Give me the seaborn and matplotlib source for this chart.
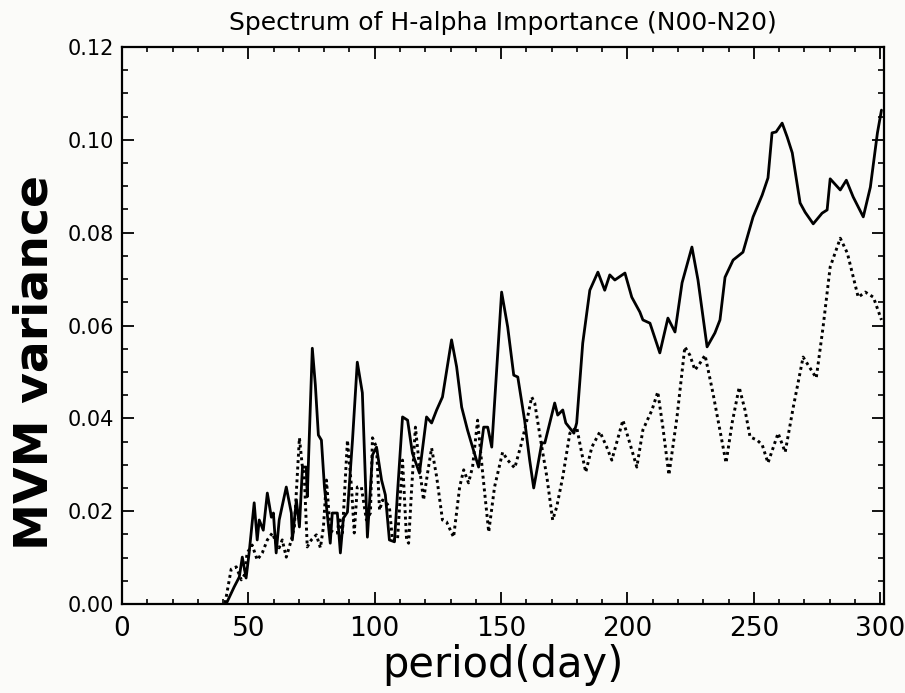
import matplotlib
matplotlib.use("Agg")
import matplotlib.pyplot as plt
from matplotlib.ticker import MultipleLocator, FormatStrFormatter
import seaborn as sns
import pandas as pd

# ---- data ----
solid_days = [41.2, 44.4, 46.4, 47.6, 49.1, 50.3, 52.3, 53.5, 54.3, 55.9,
              57.5, 59.1, 59.9, 61.0, 62.2, 65.0, 67.0, 67.4, 69.0, 70.2,
              71.4, 72.9, 73.3, 75.3, 76.5, 77.7, 78.9, 80.1, 82.4, 83.2,
              85.2, 86.4, 87.6, 89.2, 91.2, 93.1, 95.1, 97.1, 99.1, 100.7,
              102.7, 104.2, 105.8, 107.8, 109.0, 111.0, 113.0, 114.9, 117.7, 120.5,
              122.5, 124.5, 126.8, 130.4, 132.4, 134.4, 136.7, 138.7, 141.1, 143.1,
              144.7, 146.3, 150.2, 152.6, 155.0, 156.6, 159.3, 161.3, 162.9, 166.1,
              167.3, 171.2, 172.4, 174.4, 175.6, 178.8, 179.9, 182.3, 185.1, 188.3,
              191.0, 193.0, 195.0, 199.0, 201.7, 204.9, 206.1, 208.9, 212.8, 216.0,
              218.8, 221.6, 225.5, 227.9, 231.5, 234.6, 236.6, 238.6, 241.8, 245.7,
              249.7, 253.3, 255.6, 257.2, 258.8, 261.2, 263.2, 265.2, 268.3, 270.3,
              273.5, 277.0, 279.0, 280.2, 284.2, 286.6, 289.3, 293.3, 296.1, 298.9,
              300.5]
solid_var = [0.0000, 0.0037, 0.0058, 0.0101, 0.0056, 0.0110, 0.0218, 0.0138, 0.0181, 0.0159,
             0.0239, 0.0187, 0.0196, 0.0110, 0.0181, 0.0252, 0.0196, 0.0138, 0.0224, 0.0166,
             0.0295, 0.0295, 0.0231, 0.0551, 0.0472, 0.0364, 0.0353, 0.0252, 0.0131, 0.0196,
             0.0196, 0.0110, 0.0185, 0.0198, 0.0353, 0.0521, 0.0455, 0.0144, 0.0321, 0.0338,
             0.0267, 0.0235, 0.0138, 0.0134, 0.0239, 0.0403, 0.0396, 0.0325, 0.0282, 0.0403,
             0.0390, 0.0418, 0.0446, 0.0569, 0.0511, 0.0424, 0.0375, 0.0338, 0.0295, 0.0381,
             0.0381, 0.0338, 0.0672, 0.0597, 0.0493, 0.0489, 0.0396, 0.0310, 0.0250, 0.0347,
             0.0347, 0.0433, 0.0407, 0.0418, 0.0390, 0.0368, 0.0390, 0.0562, 0.0676, 0.0715,
             0.0676, 0.0709, 0.0698, 0.0713, 0.0661, 0.0629, 0.0612, 0.0605, 0.0541, 0.0616,
             0.0586, 0.0692, 0.0769, 0.0698, 0.0554, 0.0584, 0.0612, 0.0704, 0.0741, 0.0758,
             0.0834, 0.0881, 0.0918, 0.1015, 0.1017, 0.1036, 0.1006, 0.0972, 0.0864, 0.0844,
             0.0819, 0.0842, 0.0849, 0.0916, 0.0892, 0.0913, 0.0877, 0.0834, 0.0898, 0.1015,
             0.1064]

dotted_days = [40.8, 43.2, 45.2, 47.2, 48.4, 49.5, 51.5, 53.5, 55.5, 57.5,
               59.5, 61.0, 62.2, 63.4, 65.0, 67.0, 68.2, 70.2, 71.3, 72.1,
               73.3, 74.9, 76.9, 78.5, 79.7, 80.9, 82.4, 84.0, 85.2, 86.0,
               87.2, 89.2, 90.8, 91.9, 93.1, 94.7, 96.7, 98.3, 99.1, 100.7,
               101.9, 103.1, 104.6, 105.8, 107.0, 109.0, 111.0, 112.6, 113.4, 114.5,
               116.1, 117.7, 119.3, 120.9, 122.5, 124.5, 126.8, 128.4, 131.2, 133.6,
               135.2, 137.1, 138.7, 140.7, 142.7, 145.1, 147.4, 150.6, 152.6, 155.4,
               158.1, 160.5, 162.1, 163.3, 166.1, 168.1, 170.4, 172.0, 174.4, 177.2,
               179.9, 181.9, 183.5, 185.9, 189.1, 191.8, 193.8, 198.2, 200.9, 203.7,
               206.1, 209.7, 212.0, 214.0, 216.4, 219.6, 222.7, 224.7, 226.7, 228.7,
               230.7, 233.8, 239.0, 241.4, 244.2, 246.5, 248.5, 251.3, 253.3, 255.6,
               259.6, 262.4, 265.6, 269.5, 274.7, 277.4, 280.2, 284.2, 287.0, 291.3,
               294.1, 297.3, 300.5]
dotted_var = [0.0002, 0.0075, 0.0080, 0.0052, 0.0062, 0.0110, 0.0127, 0.0095, 0.0110, 0.0138,
              0.0153, 0.0131, 0.0121, 0.0138, 0.0101, 0.0138, 0.0166, 0.0358, 0.0299, 0.0278,
              0.0123, 0.0138, 0.0149, 0.0121, 0.0166, 0.0267, 0.0159, 0.0153, 0.0153, 0.0187,
              0.0153, 0.0353, 0.0252, 0.0153, 0.0252, 0.0252, 0.0181, 0.0196, 0.0358, 0.0338,
              0.0202, 0.0224, 0.0218, 0.0209, 0.0138, 0.0138, 0.0310, 0.0138, 0.0131, 0.0239,
              0.0381, 0.0295, 0.0224, 0.0282, 0.0336, 0.0274, 0.0181, 0.0177, 0.0144, 0.0252,
              0.0289, 0.0261, 0.0295, 0.0396, 0.0282, 0.0155, 0.0252, 0.0327, 0.0310, 0.0293,
              0.0347, 0.0403, 0.0446, 0.0433, 0.0338, 0.0274, 0.0181, 0.0209, 0.0274, 0.0368,
              0.0381, 0.0325, 0.0284, 0.0338, 0.0371, 0.0338, 0.0310, 0.0396, 0.0347, 0.0295,
              0.0375, 0.0418, 0.0457, 0.0381, 0.0278, 0.0403, 0.0554, 0.0536, 0.0504, 0.0519,
              0.0536, 0.0455, 0.0304, 0.0390, 0.0467, 0.0418, 0.0360, 0.0353, 0.0343, 0.0304,
              0.0368, 0.0327, 0.0424, 0.0532, 0.0487, 0.0597, 0.0726, 0.0788, 0.0756, 0.0661,
              0.0672, 0.0661, 0.0612]

x_ticks = [0, 50, 100, 150, 200, 250, 300]
title_text = "Spectrum of H-alpha Importance (N00-N20)"
x_label = "period(day)"
y_label = "MVM variance"

# ---- styling ----
sns.set_style("ticks")
plt.rcParams["font.family"] = ["DejaVu Sans"]
plt.rcParams["text.color"] = "black"
plt.rcParams["axes.labelcolor"] = "black"
plt.rcParams["xtick.color"] = "black"
plt.rcParams["ytick.color"] = "black"
plt.rcParams["axes.edgecolor"] = "black"

fig = plt.figure(figsize=(9.05, 6.93), dpi=100, facecolor="#fbfbf9")
ax = fig.add_axes([122 / 905, 1 - 604 / 693, (884 - 122) / 905, (604 - 47) / 693])
ax.set_facecolor("#fbfbf9")

df_solid = pd.DataFrame({"day": solid_days, "var": solid_var})
df_dot = pd.DataFrame({"day": dotted_days, "var": dotted_var})

sns.lineplot(data=df_solid, x="day", y="var", ax=ax, color="black",
             linewidth=2.0, estimator=None, sort=False)
sns.lineplot(data=df_dot, x="day", y="var", ax=ax, color="black",
             linewidth=2.1, estimator=None, sort=False, linestyle=(0, (1, 1.2)))

ax.set_xlim(0, 301.5)
ax.set_ylim(0, 0.12)
ax.set_xticks(x_ticks)
ax.xaxis.set_minor_locator(MultipleLocator(10))
ax.yaxis.set_major_locator(MultipleLocator(0.02))
ax.yaxis.set_minor_locator(MultipleLocator(0.005))
ax.yaxis.set_major_formatter(FormatStrFormatter("%.2f"))

for s in ax.spines.values():
    s.set_visible(True)
    s.set_color("black")
    s.set_linewidth(1.6)

ax.tick_params(axis="both", which="both", direction="in", top=True, right=True,
               color="black", labelcolor="black")
ax.tick_params(axis="x", which="major", length=8.5, width=1.3, labelsize=19, pad=9)
ax.tick_params(axis="x", which="minor", length=3.8, width=1.2)
ax.tick_params(axis="y", which="major", length=8.5, width=1.3, labelsize=15, pad=6)
ax.tick_params(axis="y", which="minor", length=4.2, width=1.2)

ax.set_title(title_text, fontsize=18, pad=12, color="black")
ax.set_xlabel(x_label, fontsize=30, labelpad=1, color="black")
ax.set_ylabel(y_label, fontsize=34, fontweight="bold", color="black")
ax.yaxis.set_label_coords(-0.085, 0.434)

fig.savefig("out.png", dpi=100, facecolor=fig.get_facecolor())
